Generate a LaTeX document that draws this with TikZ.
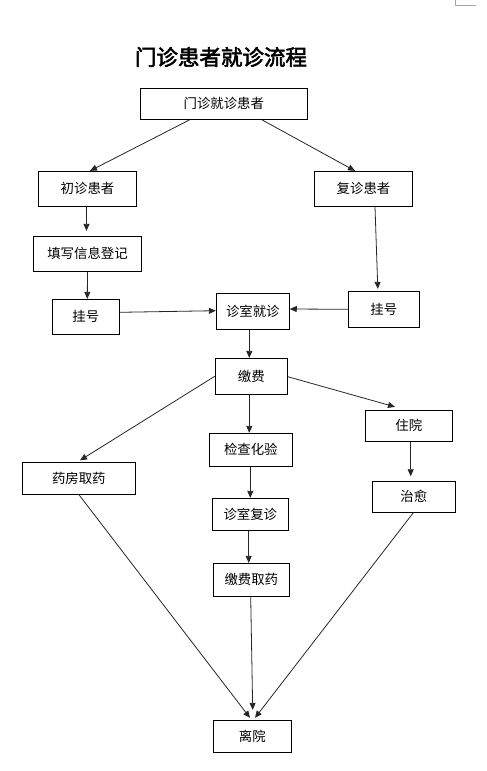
\documentclass[tikz,border=0pt]{standalone}
\usepackage{fontspec}
\newfontfamily\cjk{Noto Sans CJK SC}
\newfontfamily\cjkb[FakeBold=2.5]{Noto Sans CJK SC}
\usetikzlibrary{arrows.meta}
\tikzset{
  box/.style={draw=black, line width=0.9pt, rectangle, inner sep=0pt, font=\cjk\fontsize{13.4}{16}\selectfont},
  arr/.style={line width=0.8pt, draw=black!85, -{Triangle[length=7pt,width=6pt]}},
}
\begin{document}
\begin{tikzpicture}[x=1pt,y=-1pt]
\useasboundingbox (0,0) rectangle (487,771);
% page corner mark
\draw[black!35, line width=0.8pt] (455.5,0) -- (455.5,5) -- (476,5);
\node[font=\cjkb\fontsize{21.5}{24}\selectfont] (title) at (221,57) {门诊患者就诊流程};
\node[box, minimum width=167pt, minimum height=31pt] (A) at (223.8,103.8) {门诊就诊患者};
\node[box, minimum width=98.4pt, minimum height=35pt] (B) at (87.5,188.8) {初诊患者};
\node[box, minimum width=98.4pt, minimum height=35pt] (C) at (363.5,188.8) {复诊患者};
\node[box, minimum width=108.4pt, minimum height=35pt] (D) at (87.5,253.8) {填写信息登记};
\node[box, minimum width=67pt, minimum height=35pt] (E) at (85.8,316.8) {挂号};
\node[box, minimum width=73pt, minimum height=36pt] (F) at (252.8,311.3) {诊室就诊};
\node[box, minimum width=71pt, minimum height=36pt] (G) at (383.8,309.3) {挂号};
\node[box, minimum width=72pt, minimum height=35.7pt] (H) at (251.3,376.2) {缴费};
\node[box, minimum width=87pt, minimum height=31pt] (I) at (408.8,425.8) {住院};
\node[box, minimum width=83pt, minimum height=33pt] (J) at (250.8,449.8) {检查化验};
\node[box, minimum width=113pt, minimum height=32pt] (K) at (78.8,478.3) {药房取药};
\node[box, minimum width=83pt, minimum height=31pt] (L) at (413.8,496.8) {治愈};
\node[box, minimum width=76pt, minimum height=32pt] (M) at (250.3,514.3) {诊室复诊};
\node[box, minimum width=76pt, minimum height=33pt] (N) at (251.3,579.8) {缴费取药};
\node[box, minimum width=78pt, minimum height=32pt] (O) at (252.3,736.3) {离院};
% connectors
\draw[arr] ([xshift=-34pt]A.south) -- ([xshift=2.5pt]B.north);
\draw[arr] ([xshift=38pt]A.south) -- ([xshift=-8.5pt]C.north);
\draw[arr] ([xshift=-1pt]B.south) -- ([xshift=-1pt,yshift=5pt]D.north);
\draw[arr] (D.south) -- ([xshift=1.5pt]E.north);
\draw[arr] ([xshift=11.5pt]C.south) -- ([xshift=-6pt,yshift=2pt]G.north);
\draw[arr] ([yshift=4.5pt]E.east) -- ([yshift=0.6pt]F.west);
\draw[arr] (G.west) -- ([yshift=2.3pt]F.east);
\draw[arr] ([xshift=-3.5pt]F.south) -- ([xshift=-2pt]H.north);
\draw[arr] ([yshift=-0.5pt]H.east) -- ([xshift=-13.8pt,yshift=3pt]I.north);
\draw[arr] ([xshift=-2pt]H.south) -- ([xshift=-1.5pt]J.north);
\draw[arr] (H.west) -- ([xshift=1.2pt,yshift=1.5pt]K.north);
\draw[arr] ([xshift=1.9pt]I.south) -- ([xshift=-3.1pt,yshift=4.6pt]L.north);
\draw[arr] ([xshift=-0.5pt]J.south) -- (M.north);
\draw[arr] ([xshift=-1.6pt]M.south) -- ([xshift=-2.6pt]N.north);
\draw[arr] ([xshift=-0.6pt]N.south) -- ([xshift=0.4pt,yshift=10pt]O.north);
\draw[arr] ([xshift=0.2pt]K.south) -- ([xshift=-2.3pt,yshift=2pt]O.north);
\draw[arr] ([xshift=-0.5pt]L.south) -- ([xshift=2.7pt,yshift=2pt]O.north);
\end{tikzpicture}
\end{document}
